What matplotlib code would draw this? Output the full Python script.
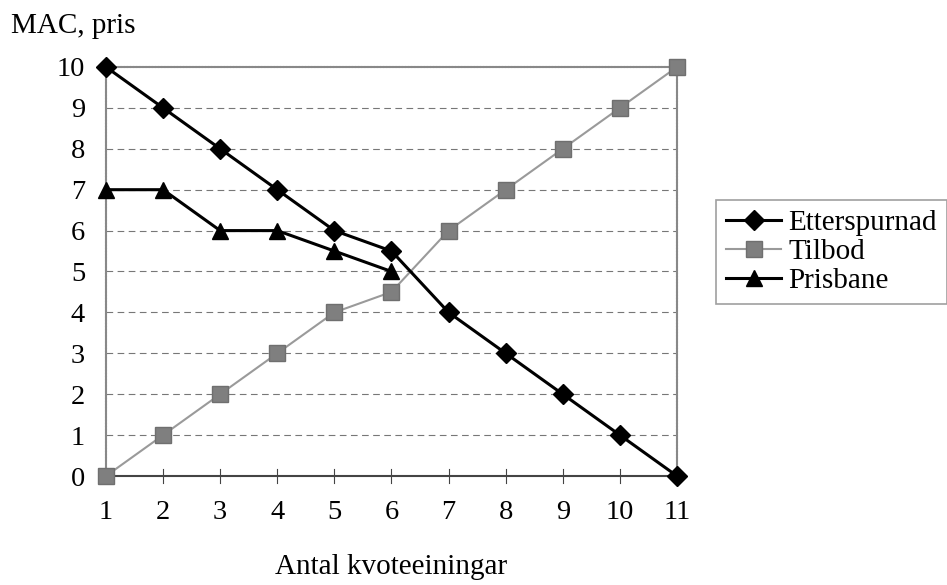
import matplotlib
matplotlib.use("Agg")
import matplotlib.pyplot as plt

x = [1, 2, 3, 4, 5, 6, 7, 8, 9, 10, 11]
etterspurnad = [10, 9, 8, 7, 6, 5.5, 4, 3, 2, 1, 0]
tilbod = [0, 1, 2, 3, 4, 4.5, 6, 7, 8, 9, 10]
x_pris = [1, 2, 3, 4, 5, 6]
prisbane = [7, 7, 6, 6, 5.5, 5]
yticks = [0, 1, 2, 3, 4, 5, 6, 7, 8, 9, 10]

plt.rcParams['font.family'] = ['Liberation Serif', 'DejaVu Serif']
fs = 20.5
fs_big = 21

fig = plt.figure(figsize=(9.47, 5.85), dpi=100)
ax = fig.add_axes([0.1119, 0.1863, 0.603, 0.6992])

for yv in yticks[1:-1]:
    ax.axhline(yv, color='#777777', lw=0.8, ls=(0, (6, 4)), zorder=1)

ax.plot(x, tilbod, color='#9a9a9a', lw=1.5, marker='s', ms=11.5,
        markerfacecolor='#7f7f7f', markeredgecolor='#6f6f6f', label='Tilbod',
        zorder=3, clip_on=False)
ax.plot(x, etterspurnad, color='black', lw=2.2, marker='D', ms=10,
        markerfacecolor='black', label='Etterspurnad', zorder=4, clip_on=False)
ax.plot(x_pris, prisbane, color='black', lw=2.2, marker='^', ms=12,
        markerfacecolor='black', label='Prisbane', zorder=5, clip_on=False)

ax.set_xlim(1, 11)
ax.set_ylim(0, 10)
ax.set_xticks(x)
ax.set_yticks(yticks)
ax.tick_params(axis='both', labelsize=fs, length=0)
ax.tick_params(axis='y', pad=15)
ax.tick_params(axis='x', pad=17)
for v in x:
    ax.plot([v, v], [-0.17, 0.17], color='#444444', lw=0.8, clip_on=False, zorder=2)

for side in ['top', 'right', 'left']:
    ax.spines[side].set_color('#888888')
    ax.spines[side].set_linestyle((0, (1, 0.5)))
    ax.spines[side].set_linewidth(1.5)
ax.spines['bottom'].set_color('#444444')
ax.spines['bottom'].set_linewidth(1.5)

ax.set_xlabel('Antal kvoteeiningar', fontsize=fs_big, labelpad=21)
fig.text(0.012, 0.955, 'MAC, pris', fontsize=fs_big, ha='left', va='center')

handles, labels = ax.get_legend_handles_labels()
order = [1, 0, 2]
leg = fig.legend([handles[i] for i in order], [labels[i] for i in order],
                 loc='upper left', bbox_to_anchor=(0.756, 0.658), fontsize=fs_big,
                 frameon=True, fancybox=False, edgecolor='#888888',
                 handlelength=1.9, handletextpad=0.25, borderpad=0.34,
                 labelspacing=0.08, borderaxespad=0)
leg.get_frame().set_linewidth(1.2)

fig.savefig('out.png', dpi=100)
